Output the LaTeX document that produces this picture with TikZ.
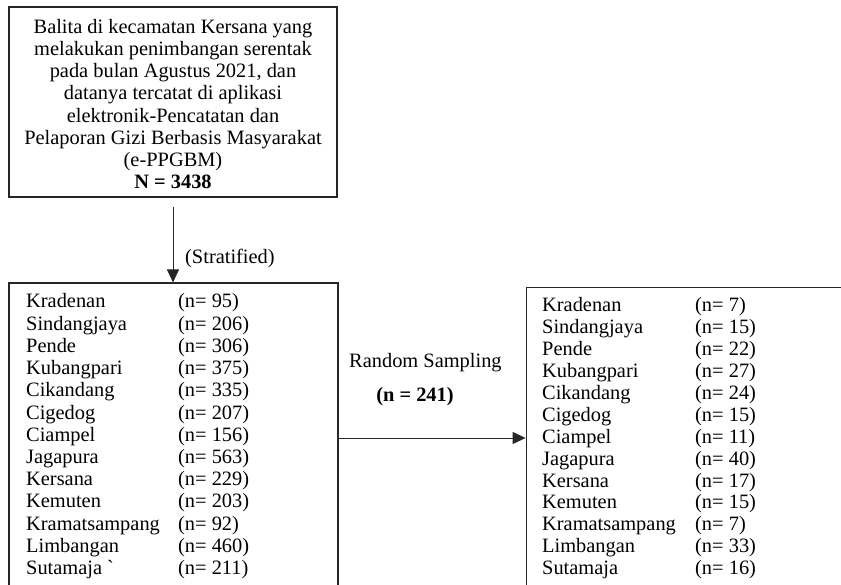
\documentclass[tikz,border=0pt]{standalone}
\usepackage{fontspec}
\setmainfont{Liberation Serif}
\usetikzlibrary{arrows.meta}
\begin{document}
\begin{tikzpicture}[x=1pt,y=-1pt,
  box/.style={draw=black!85, line width=1.1pt, inner sep=0pt},
  txt/.style={font=\fontsize{20.4}{22.1}\selectfont, inner sep=0pt},
  arr/.style={draw=black!85, line width=1pt, -{Triangle[length=13pt,width=12pt]}}]
\clip (0,0) rectangle (841,585);
\useasboundingbox (0,0) rectangle (841,585);
% boxes
\node[box, minimum width=328pt, minimum height=190pt] (top) at (173,102) {};
\node[box, minimum width=329pt, minimum height=317pt] (left) at (173.5,441.5) {};
\node[box, line width=0.8pt, minimum width=334pt, minimum height=313pt] (right) at (693,443.5) {};
% top text
\node[txt, align=center] (toptext) at (173,104) {Balita di kecamatan Kersana yang\\
melakukan penimbangan serentak\\
pada bulan Agustus 2021, dan\\
datanya tercatat di aplikasi\\
elektronik-Pencatatan dan\\
Pelaporan Gizi Berbasis Masyarakat\\
(e-PPGBM)\\
\textbf{N = 3438}};
% left list
\node[txt, anchor=base west] (ltext) at (26,308) {\renewcommand{\arraystretch}{1.005}%
\begin{tabular}[t]{@{}p{152pt}@{}l@{}}
Kradenan & (n= 95)\\
Sindangjaya & (n= 206)\\
Pende & (n= 306)\\
Kubangpari & (n= 375)\\
Cikandang & (n= 335)\\
Cigedog & (n= 207)\\
Ciampel & (n= 156)\\
Jagapura & (n= 563)\\
Kersana & (n= 229)\\
Kemuten & (n= 203)\\
Kramatsampang & (n= 92)\\
Limbangan & (n= 460)\\
Sutamaja \textasciigrave & (n= 211)
\end{tabular}};
% right list
\node[txt, anchor=base west] (rtext) at (542,312) {\renewcommand{\arraystretch}{0.99}%
\begin{tabular}[t]{@{}p{153pt}@{}l@{}}
Kradenan & (n= 7)\\
Sindangjaya & (n= 15)\\
Pende & (n= 22)\\
Kubangpari & (n= 27)\\
Cikandang & (n= 24)\\
Cigedog & (n= 15)\\
Ciampel & (n= 11)\\
Jagapura & (n= 40)\\
Kersana & (n= 17)\\
Kemuten & (n= 15)\\
Kramatsampang & (n= 7)\\
Limbangan & (n= 33)\\
Sutamaja & (n= 16)
\end{tabular}};
% connectors
\coordinate (a1) at ([yshift=-9pt]top.south);
\draw[arr] (a1) -- (top.south |- left.north);
\node[txt, anchor=west] (strat) at (185,258) {(Stratified)};
\coordinate (h) at (0,438);
\draw[arr] (left.east |- h) -- (right.west |- h);
\node[txt, anchor=west] (rs) at (349,363) {Random Sampling};
\node[txt] (n241) at (415,397) {\textbf{(n = 241)}};
\end{tikzpicture}
\end{document}
